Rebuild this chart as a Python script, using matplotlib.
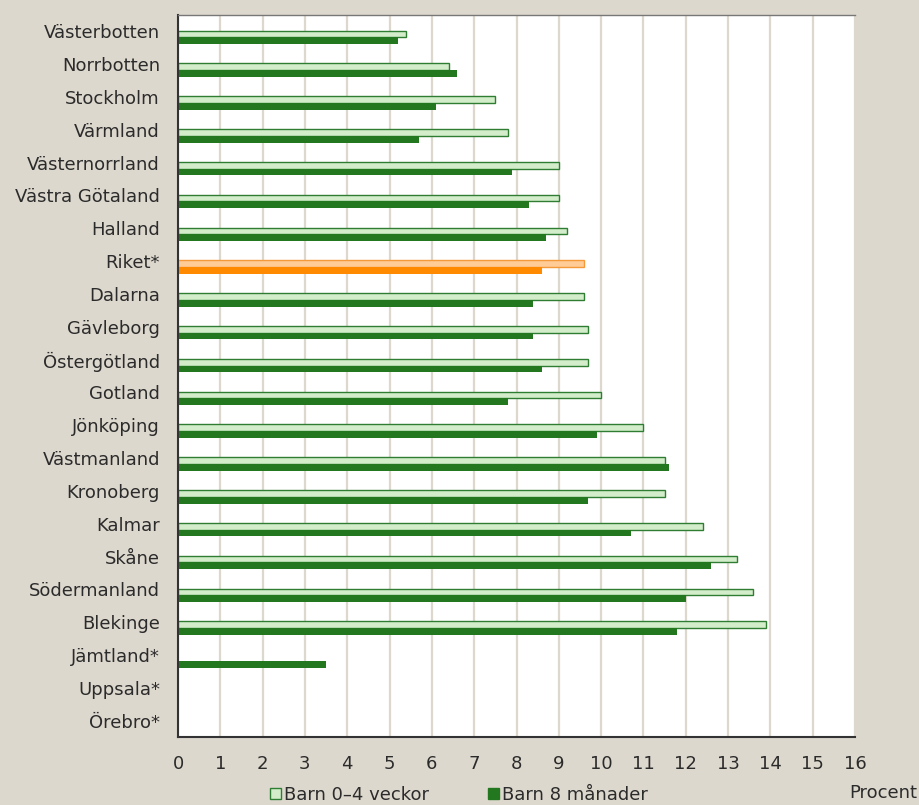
import numpy as np
import matplotlib.pyplot as plt
from matplotlib.patches import Patch

plt.rcParams["font.family"] = ["DejaVu Sans"]

lan = ["Västerbotten", "Norrbotten", "Stockholm", "Värmland", "Västernorrland",
       "Västra Götaland", "Halland", "Riket*", "Dalarna", "Gävleborg",
       "Östergötland", "Gotland", "Jönköping", "Västmanland", "Kronoberg",
       "Kalmar", "Skåne", "Södermanland", "Blekinge", "Jämtland*",
       "Uppsala*", "Örebro*"]
barn_0_4_veckor = [5.4, 6.4, 7.5, 7.8, 9.0, 9.0, 9.2, 9.6, 9.6, 9.7,
                   9.7, 10.0, 11.0, 11.5, 11.5, 12.4, 13.2, 13.6, 13.9,
                   np.nan, np.nan, np.nan]
barn_8_manader = [5.2, 6.6, 6.1, 5.7, 7.9, 8.3, 8.7, 8.6, 8.4, 8.4,
                  8.6, 7.8, 9.9, 11.6, 9.7, 10.7, 12.6, 12.0, 11.8,
                  3.5, np.nan, np.nan]

bg = "#DDD8CE"
text_col = "#2b2b2b"
light_fill, light_edge = "#D3EDCB", "#2E7D32"
dark_fill = "#23781F"
riket_light, riket_edge, riket_dark = "#FFCB96", "#F59A3A", "#FF8A00"

fig = plt.figure(figsize=(9.19, 8.05), dpi=100, facecolor=bg)
ax = fig.add_axes([178 / 919, 1 - 737 / 805, (855 - 178) / 919, (737 - 15) / 805])
ax.set_facecolor("white")

y = np.arange(len(lan))
h = 0.205
for i, name in enumerate(lan):
    riket = name == "Riket*"
    lv, dv = barn_0_4_veckor[i], barn_8_manader[i]
    # bar pair sits a bit below the label in the original
    if not np.isnan(lv):
        ax.barh(y[i] + 0.08, lv, height=h,
                color=riket_light if riket else light_fill,
                edgecolor=riket_edge if riket else light_edge, linewidth=1)
    if not np.isnan(dv):
        ax.barh(y[i] + 0.285, dv, height=h,
                color=riket_dark if riket else dark_fill, linewidth=0)

ax.set_xlim(0, 16)
ax.set_ylim(len(lan) - 0.5, -0.5)
ax.set_xticks(range(0, 17))
ax.set_yticks(y)
ax.set_yticklabels(lan)
ax.tick_params(axis="both", length=0, labelsize=13, colors=text_col)
ax.tick_params(axis="y", pad=13)
ax.tick_params(axis="x", pad=13)
ax.grid(axis="x", color=bg, linewidth=1.6)
ax.set_axisbelow(True)

for side in ["left", "bottom"]:
    ax.spines[side].set_color("#333333")
    ax.spines[side].set_linewidth(1.5)
ax.spines["top"].set_color("#777777")
ax.spines["top"].set_linewidth(1)
ax.spines["right"].set_visible(False)

leg_items = [(Patch(facecolor=light_fill, edgecolor=light_edge), "Barn 0–4 veckor", 270),
             (Patch(facecolor=dark_fill, edgecolor=dark_fill), "Barn 8 månader", 488)]
for handle, label, x0 in leg_items:
    fig.legend(handles=[handle], labels=[label], loc="center left",
               bbox_to_anchor=(x0 / 919, 1 - 795 / 805), frameon=False,
               fontsize=13, handlelength=0.6, handleheight=0.6,
               handletextpad=0.2, borderpad=0, borderaxespad=0,
               labelcolor=text_col)
fig.text(0.998, 1 - 793 / 805, "Procent", ha="right", va="center",
         fontsize=13, color=text_col)

fig.savefig("out.png", dpi=100, facecolor=bg)
